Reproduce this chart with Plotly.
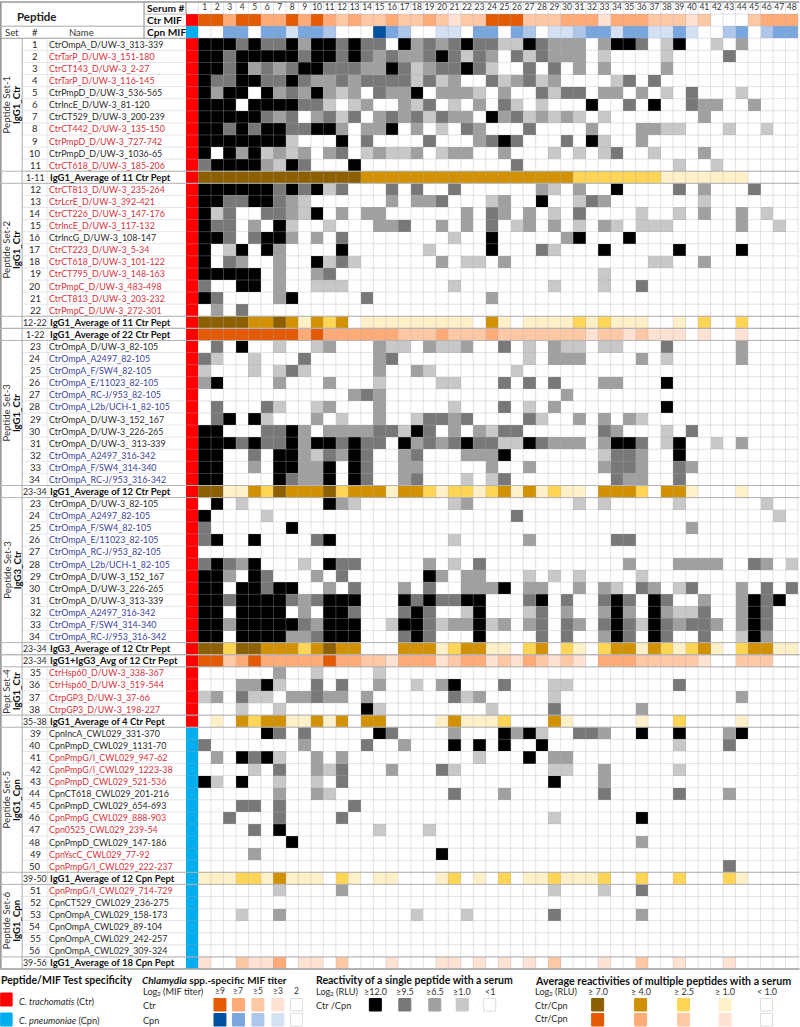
import plotly.graph_objects as go

SERUM_NUMBERS = list(range(1, 49))
CTR_MIF = "443443343432322322321224442223331333222120002333"
CPN_MIF = "003303313320004320011033032011233133113100230233"

SET1_IDS = [str(i) for i in range(1, 12)]
SET1_NAMES = ["CtrOmpA_D/UW-3_313-339", "CtrTarP_D/UW-3_151-180", "CtrCT143_D/UW-3_2-27", "CtrTarP_D/UW-3_116-145",
              "CtrPmpD_D/UW-3_536-565", "CtrIncE_D/UW-3_81-120", "CtrCT529_D/UW-3_200-239", "CtrCT442_D/UW-3_135-150",
              "CtrPmpD_D/UW-3_727-742", "CtrPmpD_D/UW-3_1036-65", "CtrCT618_D/UW-3_185-206"]
SET1_INK = "krrrkkkrrkr"
SET1_LEVELS = [
    "444343342443" "433042323433" "114322202443" "014001020000",
    "443444443443" "432322343132" "031322201000" "010000300000",
    "443423234433" "322431233431" "003030202000" "020000000000",
    "433443343223" "233331312003" "123120000130" "300000000000",
    "424404232421" "203224022210" "200313302202" "010300010000",
    "444044443310" "120021301020" "310100040030" "400322002000",
    "444443230231" "302323132204" "231212101000" "000020000000",
    "443434433442" "022402010320" "003000020002" "211000100100",
    "444444410004" "030000300023" "430003041002" "000000000000",
    "404241212023" "012112012200" "200010101300" "100020000000",
    "344442143000" "400000000000" "030000000000" "001001000000",
]
AVG_1_11 = ("1-11", "IgG1_Average of 11 Ctr Pept", "brown", "444444444444" "433333333333" "333333222222" "211111110000")

SET2_IDS = [str(i) for i in range(12, 23)]
SET2_NAMES = ["CtrCT813_D/UW-3_235-264", "CtrLcrE_D/UW-3_392-421", "CtrCT226_D/UW-3_147-176", "CtrIncE_D/UW-3_117-132",
              "CtrIncG_D/UW-3_108-147", "CtrCT223_D/UW-3_5-34", "CtrCT618_D/UW-3_101-122", "CtrCT795_D/UW-3_148-163",
              "CtrPmpC_D/UW-3_483-498", "CtrCT813_D/UW-3_203-232", "CtrPmpC_D/UW-3_272-301"]
SET2_INK = "rrrrkrrrrrr"
SET2_LEVELS = [
    "444444343413" "000303003000" "000210200400" "003020003000",
    "443344321000" "000202230001" "200400132000" "000010000000",
    "413003321402" "022000000203" "202010300001" "001020020100",
    "433020410010" "002230020203" "012020102101" "110000020010",
    "443034420203" "000000001004" "000002400040" "000000000000",
    "401404200004" "000000100004" "000310004000" "004000040000",
    "403200200413" "100000020110" "200000000000" "110020000000",
    "444440200230" "000000000000" "000000001000" "000000000000",
    "300440200111" "000000001000" "000010001003" "000000000000",
    "430000240000" "030000000002" "000000000000" "000000000000",
    "020300000000" "000000000000" "000000000000" "000000000000",
]
AVG_12_22 = ("12-22", "IgG1_Average of 11 Ctr Pept", "brown", "444433431323" "011111111103" "101111212111" "001020020000")
AVG_1_22 = ("1-22", "IgG1_Average of 22 Ctr Pept", "orange", "444444443433" "333322232223" "222222212212" "111010010000")

SET3_IDS = [str(i) for i in range(23, 35)]
SET3A_NAMES = ["CtrOmpA_D/UW-3_82-105", "CtrOmpA_A2497_82-105", "CtrOmpA_F/SW4_82-105", "CtrOmpA_E/11023_82-105",
               "CtrOmpA_RC-J/953_82-105", "CtrOmpA_L2b/UCH-1_82-105", "CtrOmpA_D/UW-3_152_167", "CtrOmpA_D/UW-3_226-265",
               "CtrOmpA_D/UW-3_ 313-339", "CtrOmpA_A2497_316-342", "CtrOmpA_F/SW4_314-340", "CtrOmpA_RC-J/953_316-342"]
SET3B_NAMES = SET3A_NAMES[:8] + ["CtrOmpA_D/UW-3_313-339"] + SET3A_NAMES[9:]
SET3_INK = "kbbbbbkkkbbb"
SET3A_LEVELS = [
    "030400100120" "002110211200" "301021101100" "030000020000",
    "310010003000" "002300000000" "001022200002" "010000020000",
    "100010131000" "002002100000" "010000000000" "000000000000",
    "240000200020" "001000011000" "303030002200" "040000000000",
    "000000000000" "232000000000" "000002000000" "000000000000",
    "030003100120" "002000001000" "301020000000" "040000000000",
    "034041000201" "002001332300" "003100202021" "000000000000",
    "440003342022" "223314302021" "330000003200" "010300000000",
    "444343342443" "433042323433" "114322202443" "014001020000",
    "440030442132" "430023000222" "400000001332" "004000000000",
    "440020442240" "430022000002" "002000002332" "003200000000",
    "440000432240" "430023000101" "300000000322" "003000000000",
]
AVG_23_34_G1 = ("23-34", "IgG1_Average of 12 Ctr Pept", "brown", "441132433342" "333133212212" "313121103332" "033100010000")

SET3B_LEVELS = [
    "040100000042" "100000001200" "000000101000" "001000000100",
    "400001000000" "000000000000" "030000000000" "000000000010",
    "300000040000" "000000000000" "000000000000" "000200000000",
    "340040000340" "000000001000" "002000000330" "000000000000",
    "000000000000" "000000000000" "000000000000" "000000000000",
    "343240001043" "300000201030" "000000000020" "002222003201",
    "442043000203" "000000420220" "001010100001" "000000000000",
    "440443440020" "300020300222" "402200202103" "201300020303",
    "443444432344" "400043433440" "003403003430" "430020024340",
    "440444402044" "300034300140" "001302002420" "421130024300",
    "442444443244" "400144312241" "202303203431" "432332024300",
    "440444422344" "400034300040" "000303002430" "430030014200",
]
AVG_23_34_G3 = ("23-34", "IgG3_Average of 12 Ctr Pept", "brown", "442443332343" "300033312331" "102302102331" "321231023311")
AVG_23_34_G13 = ("23-34", "IgG1+IgG3_Avg of 12 Ctr Pept", "orange", "442343333343" "322133312331" "213212103332" "222210022200")

SET4_IDS = [str(i) for i in range(35, 39)]
SET4_NAMES = ["CtrHsp60_D/UW-3_338-367", "CtrHsp60_D/UW-3_519-544", "CtrpGP3_D/UW-3_37-66", "CtrpGP3_D/UW-3_198-227"]
SET4_INK = "rrrr"
SET4_LEVELS = [
    "000000200100" "001000000000" "000000000000" "000000000000",
    "000224100303" "002001024000" "300011000000" "003000000000",
    "120311022322" "020000003120" "000010000000" "000000020000",
    "000100100000" "041000000001" "000030000002" "000000000000",
]
AVG_35_38 = ("35-38", "IgG1_Average of 4 Ctr Pept", "brown", "010323311313" "033000013111" "200031000001" "002000010000")

SET5_IDS = [str(i) for i in range(39, 51)]
SET5_NAMES = ["CpnIncA_CWL029_331-370", "CpnPmpD_CWL029_1131-70", "CpnPmpG/I_CWL029_947-62", "CpnPmpG/I_CWL029_1223-38",
              "CpnPmpD_CWL029_521-536", "CpnCT618_CWL029_201-216", "CpnPmpD_CWL029_654-693", "CpnPmpG_CWL029_888-903",
              "Cpn0525_CWL029_239-54", "CpnPmpD_CWL029_147-186", "CpnYscC_CWL029_77-92", "CpnPmpG/I_CWL029_222-237"]
SET5_INK = "kkrrrkkrrkrr"
SET5_LEVELS = [
    "000004303000" "004300002000" "424100332004" "004000240000",
    "300000002000" "030020004040" "400400000000" "001000300000",
    "020434100202" "000000000010" "004022000000" "000000000000",
    "000010300213" "000200031000" "000011002000" "001000000000",
    "410400100103" "000000000000" "000040002000" "000000000000",
    "000000200210" "000000003000" "200000003000" "003000200000",
    "000330300000" "300000000000" "000000000000" "000000000000",
    "003000300003" "000000000000" "000010000004" "000000000000",
    "000030400000" "001000100000" "000000000000" "000000000000",
    "000000040000" "000000000000" "000000000002" "000000000000",
    "000020000000" "000000040000" "000000000000" "000000000000",
    "000000000000" "000000000000" "000000000000" "000000300000",
]
AVG_39_50 = ("39-50", "IgG1_Average of 12 Cpn Pept", "brown", "111221311102" "101100012010" "201121112002" "002000210000")

SET6_IDS = [str(i) for i in range(51, 57)]
SET6_NAMES = ["CpnPmpG/I_CWL029_714-729", "CpnCT529_CWL029_236-275", "CpnOmpA_CWL029_158-173", "CpnOmpA_CWL029_89-104",
              "CpnOmpA_CWL029_242-257", "CpnOmpA_CWL029_309-324"]
SET6_INK = "rkkkkk"
SET6_LEVELS = [
    "000000100002" "000000000000" "000010001003" "000000000000",
    "000000000000" "000000000000" "000000000000" "000000000000",
    "000100200000" "000001000100" "000030000002" "000000000000",
    "000000000000" "000000000000" "000000000000" "000000000000",
    "000000000000" "000000000000" "000000000000" "000000000000",
    "000000000000" "000000000000" "000000000000" "000000000000",
]
AVG_39_56 = ("39-56", "IgG1_Average of 18 Cpn Pept", "orange", "100211301102" "000100011010" "101020001002" "001000100000")

# colour scales, index = level 0..4
SINGLE = ["#ffffff", "#c8c8c8", "#a0a0a0", "#787878", "#000000"]
BROWN = ["#ffffff", "#fff0c8", "#ffd555", "#d29200", "#8c5f00"]
ORANGE = ["#ffffff", "#ffe2d2", "#ffc8a5", "#ffab78", "#e35a00"]
BLUE = ["#ffffff", "#d4e1f3", "#adc6ea", "#7aa6de", "#0052a0"]
STRIP = ["#ff0000", "#00aeef"]
OFFSET = {"single": 0, "brown": 5, "orange": 10, "blue": 15, "strip": 20}
COLORS = SINGLE + BROWN + ORANGE + BLUE + STRIP
INK = {"k": "#2b2b2b", "r": "#d8333c", "b": "#3d459b"}

FONT = "Lato"
TOP, BOTTOM, LEFT, RIGHT = 2.0, 969.0, 186.0, 798.5
W, H = 800, 1027
ROWS = 80


def codes(levels, pal):
    return [OFFSET[pal] + int(c) for c in levels]


def xp(px):
    return (px - LEFT) / (RIGHT - LEFT)


def yp(py):
    return 1 - (py - TOP) / (BOTTOM - TOP)


z = []
row_text = []
avg_rows = []


def add_set(ids, names, ink, levels, strip):
    for i, nm, k, lv in zip(ids, names, ink, levels):
        z.append([OFFSET["strip"] + strip] + codes(lv, "single"))
        row_text.append((i, nm, INK[k], False))


def add_avg(a, strip):
    avg_rows.append(len(z))
    z.append([OFFSET["strip"] + strip] + codes(a[3], a[2]))
    row_text.append((a[0], a[1], "#111111", True))


z.append([0] * 49)
row_text.append(None)
z.append([OFFSET["strip"]] + codes(CTR_MIF, "orange"))
row_text.append(None)
z.append([OFFSET["strip"] + 1] + codes(CPN_MIF, "blue"))
row_text.append(None)

sections = []
s = len(z); add_set(SET1_IDS, SET1_NAMES, SET1_INK, SET1_LEVELS, 0); sections.append((s, len(z), "Peptide Set-1", "IgG1_Ctr"))
add_avg(AVG_1_11, 0)
s = len(z); add_set(SET2_IDS, SET2_NAMES, SET2_INK, SET2_LEVELS, 0); sections.append((s, len(z), "Peptide Set-2", "IgG1_Ctr"))
add_avg(AVG_12_22, 0); add_avg(AVG_1_22, 0)
s = len(z); add_set(SET3_IDS, SET3A_NAMES, SET3_INK, SET3A_LEVELS, 0); sections.append((s, len(z), "Peptide Set-3", "IgG1_Ctr"))
add_avg(AVG_23_34_G1, 0)
s = len(z); add_set(SET3_IDS, SET3B_NAMES, SET3_INK, SET3B_LEVELS, 0); sections.append((s, len(z), "Peptide Set-3", "IgG3_Ctr"))
add_avg(AVG_23_34_G3, 0); add_avg(AVG_23_34_G13, 0)
s = len(z); add_set(SET4_IDS, SET4_NAMES, SET4_INK, SET4_LEVELS, 0); sections.append((s, len(z), "Pept Set-4", "IgG1_Ctr"))
add_avg(AVG_35_38, 0)
s = len(z); add_set(SET5_IDS, SET5_NAMES, SET5_INK, SET5_LEVELS, 1); sections.append((s, len(z), "Peptide Set-5", "IgG1_Cpn"))
add_avg(AVG_39_50, 1)
s = len(z); add_set(SET6_IDS, SET6_NAMES, SET6_INK, SET6_LEVELS, 1); sections.append((s, len(z), "Peptide Set-6", "IgG1_Cpn"))
add_avg(AVG_39_56, 1)

n = len(COLORS)
colorscale = []
for i, c in enumerate(COLORS):
    colorscale += [[i / n, c], [(i + 1) / n, c]]

fig = go.Figure()
fig.add_trace(go.Heatmap(z=z, x=list(range(0, 49)), y=list(range(len(z))), zmin=-0.5, zmax=n - 0.5,
                         colorscale=colorscale, showscale=False, hoverinfo="skip"))
fig.add_trace(go.Scatter(x=SERUM_NUMBERS, y=[0] * 48, text=[str(v) for v in SERUM_NUMBERS], mode="text",
                         textfont=dict(family=FONT, size=8.5, color="#333333"), hoverinfo="skip", showlegend=False))

ann = []
shapes = []


def text(px, py, s, size=9, color="#2b2b2b", anchor="left", angle=0):
    ann.append(dict(x=xp(px), y=yp(py), xref="paper", yref="paper", text=s, showarrow=False, xanchor=anchor,
                    yanchor="middle", textangle=angle, borderpad=0, align="left",
                    font=dict(family=FONT, size=size, color=color)))


def line(x0, y0, x1, y1, color="#e4e4e8", width=1):
    shapes.append(dict(type="line", xref="paper", yref="paper", x0=xp(x0), x1=xp(x1), y0=yp(y0), y1=yp(y1),
                       line=dict(color=color, width=width), layer="above"))


def box(x0, y0, x1, y1, fill, outline=None):
    shapes.append(dict(type="rect", xref="paper", yref="paper", x0=xp(x0), x1=xp(x1), y0=yp(y0), y1=yp(y1),
                       fillcolor=fill, line=dict(color=outline or fill, width=1), layer="above"))


rh = (BOTTOM - TOP) / ROWS


def ry(r):
    return TOP + rh * (r + 0.5)


# cell grid over the heatmap
GRID = "rgba(170,170,190,0.34)"
for c in range(1, 50):
    line(LEFT + 12.5 * c, TOP, LEFT + 12.5 * c, BOTTOM, GRID)
for r in range(1, ROWS):
    line(LEFT, TOP + rh * r, RIGHT, TOP + rh * r, GRID)

# table lines in the left panel
for r in range(4, ROWS):
    line(22, TOP + rh * r, LEFT, TOP + rh * r, "#e6e6ea")
line(47, TOP + rh * 3, 47, BOTTOM, "#e6e6ea")
line(22, TOP + rh * 3, 22, BOTTOM, "#aaaaaa")
line(0.5, TOP, 0.5, BOTTOM, "#999999", 2)
line(144, TOP, 144, TOP + rh * 3, "#888888")
line(186, TOP, 186, TOP + rh, "#888888")
line(0, TOP, 800, TOP, "#999999", 1.5)
line(0, TOP + rh * 2, 144, TOP + rh * 2, "#aaaaaa")
line(0, TOP + rh * 3, 186, TOP + rh * 3, "#999999")
line(144, TOP + rh, 186, TOP + rh, "#bbbbbb")
line(144, TOP + rh * 2, 186, TOP + rh * 2, "#bbbbbb")
line(0, BOTTOM, 800, BOTTOM, "#999999", 1.5)
for a in avg_rows:
    line(0, TOP + rh * a, 800, TOP + rh * a, "#b4b4b4")
    line(0, TOP + rh * (a + 1), 800, TOP + rh * (a + 1), "#b4b4b4")

# header texts
text(37, 16, "<b>Peptide</b>", 11.5, "#222222", "center")
text(146, ry(0), "<b>Serum #</b>", 10.2, "#111111")
text(146, ry(1), "<b>Ctr MIF</b>", 10.2, "#111111")
text(146, ry(2), "<b>Cpn MIF</b>", 10.2, "#111111")
text(12, ry(2), "Set", 9.5, "#333333", "center")
text(35, ry(2), "#", 9.5, "#333333", "center")
text(81, ry(2), "Name", 9.5, "#333333", "center")

# row labels
for r, t in enumerate(row_text):
    if t is None:
        continue
    i, nm, col, bold = t
    text(35, ry(r), i, 8.8 if bold else 9.5, "#2b2b2b", "center")
    text(48.5 if bold else 48, ry(r), f"<b>{nm}</b>" if bold else nm, 9.5 if bold else 8.9, col)

# set labels
for a, b, l1, l2 in sections:
    mid = TOP + rh * (a + b) / 2
    text(6.5, mid, l1, 9.6, "#333333", "center", -90)
    text(17, mid, f"<b>{l2}</b>", 9.6, "#111111", "center", -90)


def log2(px, py, tail):
    text(px, py, "Log", 9.2)
    text(px + 14, py + 2.5, "2", 6.5)
    text(px + 20, py, tail, 9.2)


# legend
LEG_Y1, LEG_Y2 = 980, 991
text(0, LEG_Y1, "<b>Peptide/MIF Test specificity</b>", 10.5, "#111111")
text(141, LEG_Y1, "<b><i>Chlamydia</i> spp.-specific MIF titer</b>", 10, "#111111")
text(315, LEG_Y1, "<b>Reactivity of a single peptide with a serum</b>", 10.5, "#111111")
text(534, LEG_Y1, "<b>Average reactivities of multiple peptides with a serum</b>", 10.7, "#111111")

box(0.5, 993, 12, 1006, STRIP[0])
box(0.5, 1013, 12, 1026, STRIP[1])
text(18, 1001, "<i>C. trachomatis</i> (Ctr)", 9.2)
text(18, 1020, "<i>C. pneumoniae</i> (Cpn)", 9.2)

log2(142, LEG_Y2, "(MIF titer)")
text(142, 1005, "Ctr", 9.2)
text(142, 1020, "Cpn", 9.2)
MIF_LEG_X = [220, 238.5, 258, 278, 296.5]
MIF_LEG_LABELS = ["≥9", "≥7", "≥5", "≥3", "2"]
for k, (x, lab) in enumerate(zip(MIF_LEG_X, MIF_LEG_LABELS)):
    text(x, LEG_Y2, lab, 8.5, "#333333", "center")
    box(x - 6, 998.5, x + 6, 1011, ORANGE[4 - k], "#dddddd" if k == 4 else None)
    box(x - 6, 1013.5, x + 6, 1026, BLUE[4 - k], "#dddddd" if k == 4 else None)

log2(315, LEG_Y2, "(RLU)")
text(315, 1005, "Ctr /Cpn", 9.2)
SINGLE_LEG_X = [375.5, 405, 435, 462.5, 490]
SINGLE_LEG_LABELS = ["≥12.0", "≥9.5", "≥6.5", "≥1.0", "<1"]
for k, (x, lab) in enumerate(zip(SINGLE_LEG_X, SINGLE_LEG_LABELS)):
    text(x, LEG_Y2, lab, 9, "#333333", "center")
    box(x - 6, 998.5, x + 6, 1011, SINGLE[4 - k], "#dddddd" if k == 4 else None)

log2(534, LEG_Y2, "(RLU)")
text(534, 1005, "Ctr/Cpn", 9.2)
text(534, 1018.5, "Ctr/Cpn", 9.2)
AVG_LEG_X = [598, 641, 684, 725.5, 767]
AVG_LEG_LABELS = ["≥ 7.0", "≥ 4.0", "≥ 2.5", "≥ 1.0", "< 1.0"]
for k, (x, lab) in enumerate(zip(AVG_LEG_X, AVG_LEG_LABELS)):
    text(x, LEG_Y2, lab, 9, "#333333", "center")
    box(x - 6, 998.5, x + 6, 1011, BROWN[4 - k], "#dddddd" if k == 4 else None)
    box(x - 6, 1013.5, x + 6, 1026, ORANGE[4 - k], "#dddddd" if k == 4 else None)

fig.update_layout(
    width=W, height=H,
    margin=dict(l=LEFT, r=W - RIGHT, t=TOP, b=H - BOTTOM, pad=0),
    paper_bgcolor="white", plot_bgcolor="white",
    showlegend=False,
    xaxis=dict(range=[-0.5, 48.5], visible=False, fixedrange=True),
    yaxis=dict(range=[ROWS - 0.5, -0.5], visible=False, fixedrange=True),
    annotations=ann, shapes=shapes,
)
fig.write_html("out.html", config=dict(displayModeBar=False),
               post_script="document.body.style.margin='0';document.body.style.overflow='hidden';")
